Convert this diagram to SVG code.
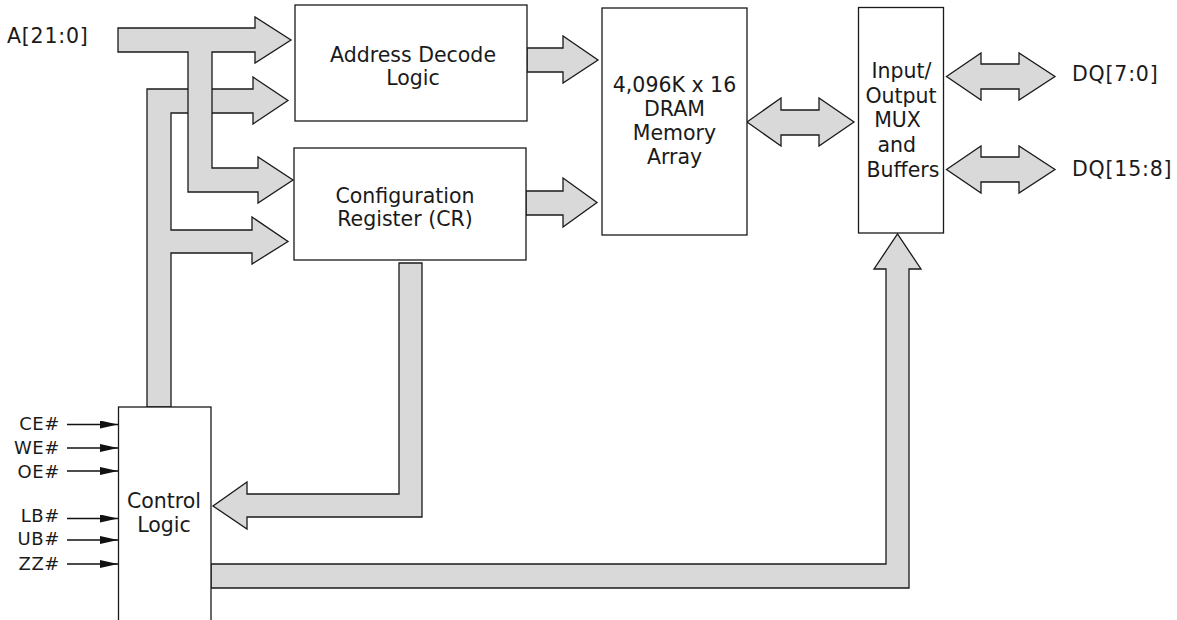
<svg xmlns="http://www.w3.org/2000/svg" width="1177" height="620" viewBox="0 0 1177 620">
<style>
.box{fill:#fff;stroke:#1a1a1a;stroke-width:1.3}
.bus{fill:#d9d9d9;stroke:#1a1a1a;stroke-width:1.3;stroke-linejoin:miter}
.sig{stroke:#111;stroke-width:1.3;fill:none}
text{font-family:"DejaVu Sans",Verdana,sans-serif;font-size:20.5px;fill:#1a1a1a}
.c{text-anchor:middle}
.pin{letter-spacing:0.8px}
.lbl{font-size:18px;letter-spacing:0.6px;text-anchor:end}
</style>
<defs>
<marker id="ah" viewBox="0 0 18 8" refX="18" refY="4" markerWidth="18" markerHeight="8" markerUnits="userSpaceOnUse" orient="auto">
<path d="M0,0 L18,4 L0,8 Z" fill="#111"/>
</marker>
</defs>
<rect width="1177" height="620" fill="#fff"/>
<g id="connectors">
<polygon class="bus" points="147,407 147,89 253,89 253,77 288,100.5 253,124 253,113 171,113 171,230 252,230 252,217 288,241.5 252,264 252,253 171,253 171,407"/>
<polygon class="bus" points="118,28 255,28 255,17 291,40 255,63 255,52 212,52 212,168 258,168 258,157 293,180 258,203 258,192 188,192 188,52 118,52"/>
<polygon class="bus" points="527,48 563,48 563,36 598,60 563,83 563,72 527,72"/>
<polygon class="bus" points="526,191 563,191 563,178 597,202.5 563,227 563,215 526,215"/>
<polygon class="bus" points="747,122 781,98 781,110 819,110 819,98 854,122 819,146 819,135 781,135 781,146"/>
<polygon class="bus" points="946.5,76.5 981,53 981,64 1019,64 1019,53 1055,76.5 1019,100 1019,89 981,89 981,100"/>
<polygon class="bus" points="946.5,169.5 981,146 981,157 1019,157 1019,146 1055,169.5 1019,193 1019,182 981,182 981,193"/>
<polygon class="bus" points="399,263 422,263 422,517 247,517 247,529 213,506 247,482 247,494 399,494"/>
<polygon class="bus" points="211,564 886,564 886,269 874,269 897.5,234 921,269 909,269 909,588 211,588"/>
<line class="sig" x1="67" y1="424.5" x2="118" y2="424.5" marker-end="url(#ah)"/>
<line class="sig" x1="67" y1="448" x2="118" y2="448" marker-end="url(#ah)"/>
<line class="sig" x1="67" y1="471" x2="118" y2="471" marker-end="url(#ah)"/>
<line class="sig" x1="67" y1="518.5" x2="118" y2="518.5" marker-end="url(#ah)"/>
<line class="sig" x1="67" y1="540" x2="118" y2="540" marker-end="url(#ah)"/>
<line class="sig" x1="67" y1="564" x2="118" y2="564" marker-end="url(#ah)"/>
</g>
<g id="addr-decode">
<rect class="box" x="295" y="5" width="232" height="116"/>
<text class="c" x="413" y="62">Address Decode</text>
<text class="c" x="413" y="85">Logic</text>
</g>
<g id="config-reg">
<rect class="box" x="294" y="148" width="232" height="112"/>
<text class="c" x="405" y="203">Configuration</text>
<text class="c" x="405" y="226">Register (CR)</text>
</g>
<g id="dram">
<rect class="box" x="602" y="8" width="145" height="227"/>
<text class="c" x="674.5" y="92">4,096K x 16</text>
<text class="c" x="674.5" y="116">DRAM</text>
<text class="c" x="674.5" y="140">Memory</text>
<text class="c" x="674.5" y="164">Array</text>
</g>
<g id="io-mux">
<rect class="box" x="858.5" y="7.5" width="85" height="225.5"/>
<text class="c" x="901.5" y="78">Input/</text>
<text class="c" x="901" y="102.5">Output</text>
<text class="c" x="897.5" y="127">MUX</text>
<text class="c" x="896.7" y="151.5">and</text>
<text class="c" x="903" y="176.5">Buffers</text>
</g>
<g id="control-logic">
<rect class="box" x="118.5" y="407" width="92.5" height="225"/>
<text class="c" x="164" y="508">Control</text>
<text class="c" x="164" y="532">Logic</text>
</g>
<g id="labels">
<text class="pin" x="7" y="43">A[21:0]</text>
<text class="pin" x="1072" y="81">DQ[7:0]</text>
<text class="pin" x="1072" y="176">DQ[15:8]</text>
<text class="lbl" x="60" y="429.5">CE#</text>
<text class="lbl" x="60" y="453.5">WE#</text>
<text class="lbl" x="60" y="477.5">OE#</text>
<text class="lbl" x="60" y="522">LB#</text>
<text class="lbl" x="60" y="545">UB#</text>
<text class="lbl" x="60" y="569.5">ZZ#</text>
</g>
</svg>
